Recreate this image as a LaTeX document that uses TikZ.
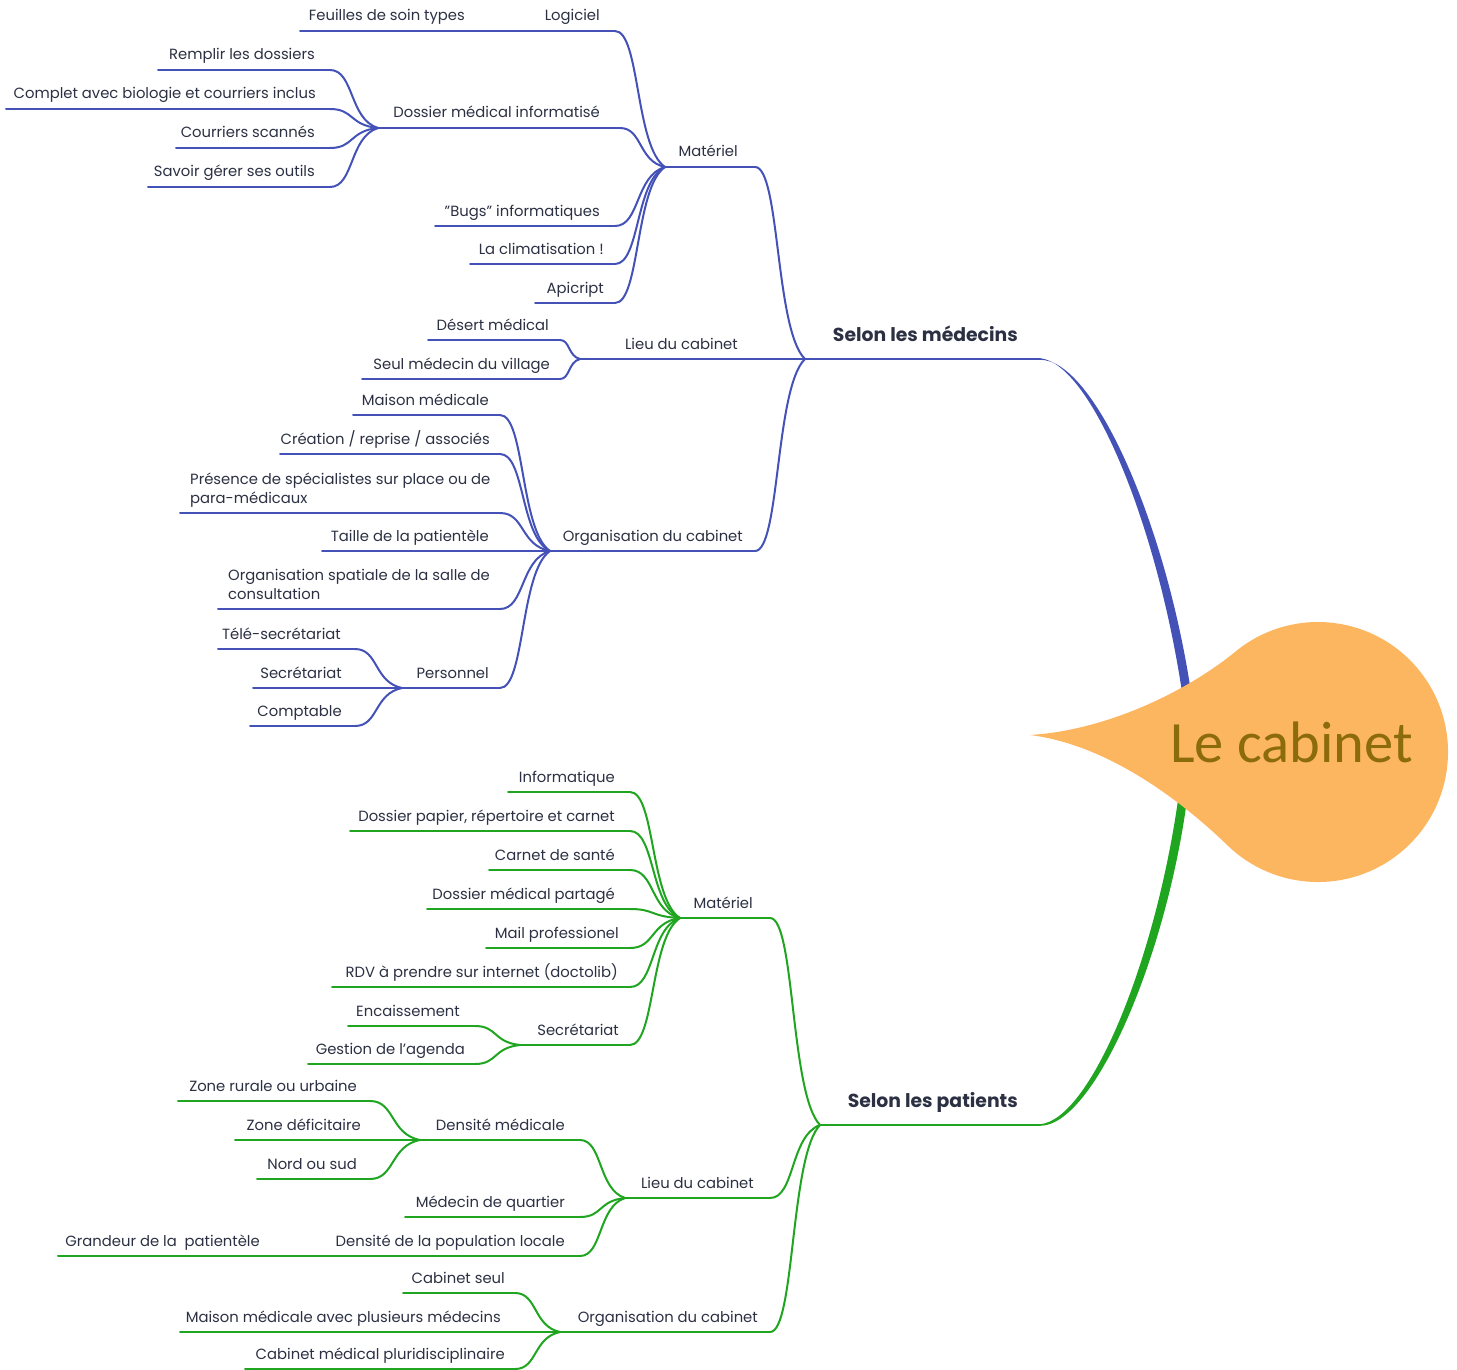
\documentclass[tikz,border=0pt]{standalone}
\usepackage{fontspec}
\setmainfont{Poppins}
\newfontfamily\rootfont{Carlito}
\usetikzlibrary{calc}
\definecolor{bluec}{HTML}{4452B8}
\definecolor{greenc}{HTML}{1FA51F}
\definecolor{txtc}{HTML}{2B3042}
\definecolor{orangec}{HTML}{FDB660}
\definecolor{rootc}{HTML}{8B6B0B}
\def\brc{bluec}
\tikzset{
  line/.style={draw=\brc, line width=2pt, line cap=round},
  txt/.style={inner sep=0pt, text=txtc, font=\fontsize{14.8}{19}\selectfont},
  bigtxt/.style={inner sep=0pt, text=txtc, font=\fontsize{18.8}{20}\selectfont\bfseries},
  branch/.style={to path={let \p1=(\tikztostart), \p2=(\tikztotarget), \n1={\x2-\x1}, \n2={\y2-\y1} in
     .. controls ({\x1+0.5*\n1*1pt}, \y1) and ({\x1+0.4*\n1*1pt}, {\y2-0.15*\n2*1pt}) .. (\tikztotarget)}}
}
% name, xl, xr, y, text right, text
\newcommand\mmitem[6]{%
  \coordinate (#1-l) at (#2,#4);
  \coordinate (#1-r) at (#3,#4);
  \draw[line] (#1-l) -- (#1-r);
  \node[txt, anchor=base east] (#1) at (#5,#4-10) {#6};
}
% two-line: name, xl, xr, y, text left, line1, line2
\newcommand\mmitemtwo[7]{%
  \coordinate (#1-l) at (#2,#4);
  \coordinate (#1-r) at (#3,#4);
  \draw[line] (#1-l) -- (#1-r);
  \node[txt, anchor=base west] (#1a) at (#5,#4-29) {#6};
  \node[txt, anchor=base west] (#1b) at (#5,#4-10) {#7};
}
\newcommand\mmbig[6]{%
  \coordinate (#1-l) at (#2,#4);
  \coordinate (#1-r) at (#3,#4);
  \draw[line] (#1-l) -- (#1-r);
  \node[bigtxt, anchor=base east] (#1) at (#5,#4-18) {#6};
}
\begin{document}
\begin{tikzpicture}[x=1pt,y=-1pt]
\useasboundingbox (0,0) rectangle (1457,1370);

% ---------- main thick branches ----------
\fill[bluec] (1040,358.2) .. controls (1090,363) and (1156,520) .. (1182,692)
   -- (1191,692) .. controls (1165,520) and (1093,359) .. (1040,359.8) -- cycle;
\fill[greenc] (1040,1124.2) .. controls (1090,1120) and (1155,962) .. (1178,800)
   -- (1187,800) .. controls (1165,962) and (1093,1126) .. (1040,1125.8) -- cycle;

% ---------- Selon les medecins ----------
\def\brc{bluec}
\mmbig{sm}{805}{1040}{359}{1018}{Selon les médecins}
\mmitem{mat}{665}{755}{167}{738}{Matériel}
\mmitem{lieu}{580}{752}{359}{738}{Lieu du cabinet}
\mmitem{org}{550}{755}{551}{743}{Organisation du cabinet}

\mmitem{log}{535}{615}{31}{600}{Logiciel}
\mmitem{feu}{300}{478}{31}{465}{Feuilles de soin types}
\mmitem{dmi}{378}{620}{128}{600}{Dossier médical informatisé}
\mmitem{bug}{435}{615}{226}{600}{{\char34}Bugs{\char34} informatiques}
\mmitem{clim}{470}{615}{264}{604}{La climatisation !}
\mmitem{api}{535}{615}{303}{604}{Apicript}

\mmitem{rem}{158}{330}{70}{315}{Remplir les dossiers}
\mmitem{comp}{6}{330}{109}{316}{Complet avec biologie et courriers inclus}
\mmitem{cour}{176}{330}{148}{315}{Courriers scannés}
\mmitem{sav}{148}{330}{187}{315}{Savoir gérer ses outils}

\mmitem{des}{428}{560}{340}{549}{Désert médical}
\mmitem{seul}{362}{560}{379}{550}{Seul médecin du village}

\mmitem{mai}{353}{500}{415}{489}{Maison médicale}
\mmitem{cre}{280}{500}{454}{490}{Création / reprise / associés}
\mmitemtwo{pre}{180}{500}{513}{190}{Présence de spécialistes sur place ou de}{para-médicaux}
\mmitem{tai}{322}{500}{551}{489}{Taille de la patientèle}
\mmitemtwo{ospa}{218}{500}{609}{228}{Organisation spatiale de la salle de}{consultation}
\mmitem{pers}{402}{500}{688}{489}{Personnel}

\mmitem{tele}{218}{355}{649}{341}{Télé-secrétariat}
\mmitem{sec}{253}{355}{688}{342}{Secrétariat}
\mmitem{cpt}{250}{355}{726}{342}{Comptable}

\foreach \cc/\pp in {mat/sm, lieu/sm, org/sm,
                   log/mat, dmi/mat, bug/mat, clim/mat, api/mat, feu/log,
                   rem/dmi, comp/dmi, cour/dmi, sav/dmi,
                   des/lieu, seul/lieu,
                   mai/org, cre/org, pre/org, tai/org, ospa/org, pers/org,
                   tele/pers, sec/pers, cpt/pers}
  \draw[line] (\cc-r) to[branch] (\pp-l);

% ---------- Selon les patients ----------
\def\brc{greenc}
\mmbig{sp}{820}{1040}{1125}{1018}{Selon les patients}
\mmitem{gmat}{680}{770}{918}{753}{Matériel}
\mmitem{glieu}{625}{770}{1198}{754}{Lieu du cabinet}
\mmitem{gorg}{560}{770}{1332}{758}{Organisation du cabinet}

\mmitem{inf}{508}{630}{792}{615}{Informatique}
\mmitem{dpap}{350}{630}{831}{615}{Dossier papier, répertoire et carnet}
\mmitem{cds}{489}{630}{870}{615}{Carnet de santé}
\mmitem{dmp}{427}{630}{909}{615}{Dossier médical partagé}
\mmitem{mail}{486}{630}{948}{619}{Mail professionel}
\mmitem{rdv}{332}{630}{987}{618}{RDV à prendre sur internet (doctolib)}
\mmitem{gsec}{520}{630}{1045}{619}{Secrétariat}
\mmitem{enc}{348}{475}{1026}{460}{Encaissement}
\mmitem{agd}{308}{475}{1064}{465}{Gestion de l{\char39}agenda}

\mmitem{dmed}{420}{580}{1140}{565}{Densité médicale}
\mmitem{medq}{405}{580}{1217}{565}{Médecin de quartier}
\mmitem{dpop}{325}{580}{1256}{565}{Densité de la population locale}
\mmitem{gra}{58}{270}{1256}{260}{Grandeur de la \ patientèle}
\mmitem{zru}{178}{370}{1101}{357}{Zone rurale ou urbaine}
\mmitem{zdef}{235}{370}{1140}{361}{Zone déficitaire}
\mmitem{nord}{257}{370}{1179}{357}{Nord ou sud}

\mmitem{cseul}{403}{515}{1293}{505}{Cabinet seul}
\mmitem{mmed}{180}{515}{1332}{501}{Maison médicale avec plusieurs médecins}
\mmitem{cmp}{245}{515}{1369}{505}{Cabinet médical pluridisciplinaire}

\foreach \cc/\pp in {gmat/sp, glieu/sp, gorg/sp,
                   inf/gmat, dpap/gmat, cds/gmat, dmp/gmat, mail/gmat, rdv/gmat, gsec/gmat,
                   enc/gsec, agd/gsec,
                   dmed/glieu, medq/glieu, dpop/glieu, gra/dpop,
                   zru/dmed, zdef/dmed, nord/dmed,
                   cseul/gorg, mmed/gorg, cmp/gorg}
  \draw[line] (\cc-r) to[branch] (\pp-l);

% ---------- root ----------
\fill[orangec] (1030,735) .. controls (1110,730) and (1190,689) .. (1236.2,651)
   arc[start angle=-129, end angle=134, radius=130]
   .. controls (1184.6,803.8) and (1110,745) .. (1030,735) -- cycle;
\node[inner sep=0pt, anchor=base west, text=rootc, font=\rootfont\fontsize{58.5}{60}\selectfont] (root) at (1170,762) {Le cabinet};
\end{tikzpicture}
\end{document}
